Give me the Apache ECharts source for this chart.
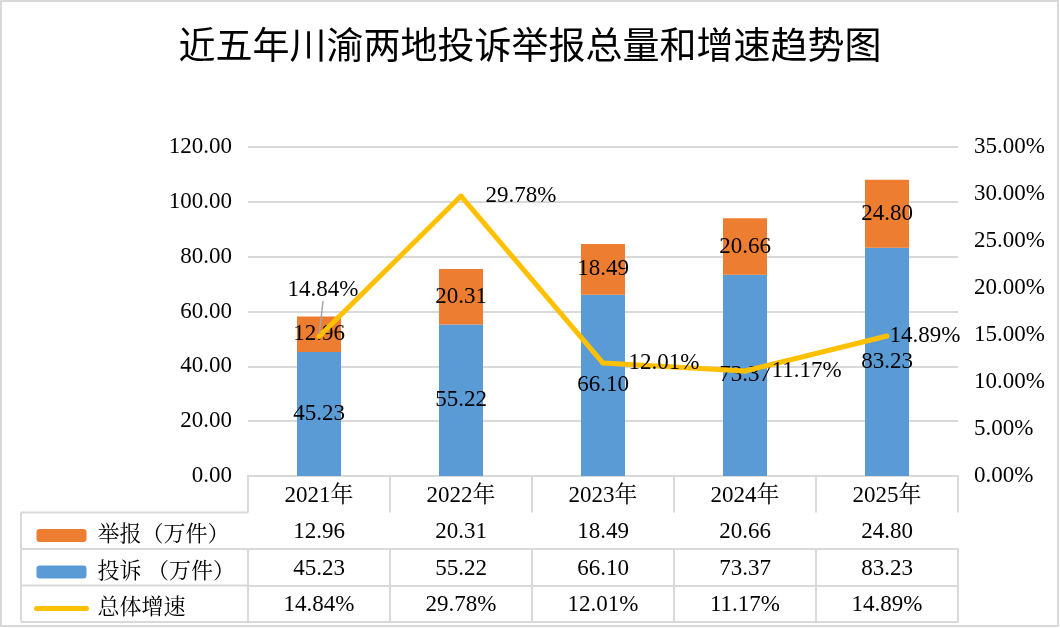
<!DOCTYPE html>
<html>
<head>
<meta charset="utf-8">
<title>近五年川渝两地投诉举报总量和增速趋势图</title>
<script src="https://cdn.jsdelivr.net/npm/echarts@6/dist/echarts.min.js"></script>
<style>
  html, body { margin: 0; padding: 0; background: #fff; }
  #chart { width: 1060px; height: 628px; }
</style>
</head>
<body>
<div id="chart"></div>
<script>
// 数据
var years = ['2021年', '2022年', '2023年', '2024年', '2025年'];
var complaints = [45.23, 55.22, 66.10, 73.37, 83.23];   // 投诉（万件）
var reports = [12.96, 20.31, 18.49, 20.66, 24.80];      // 举报（万件）
var growth = [14.84, 29.78, 12.01, 11.17, 14.89];       // 总体增速 %
var leftTicks = { min: 0, max: 120, interval: 20 };
var rightTicks = { min: 0, max: 35, interval: 5 };

var serif = '"Liberation Serif", "Times New Roman", "Noto Serif CJK SC", "Noto Sans CJK SC", serif';
var gray = '#d9d9d9';
var rowH = 36.5;
var gridLeft = 248, gridRight = 102, gridTop = 147, gridBottom = 152;

var chart = echarts.init(document.getElementById('chart'));

// 表格的行：每行一个放在底部的类目轴
function tableAxis(labels, offset, showLabel) {
  return {
    type: 'category',
    data: labels,
    position: 'bottom',
    offset: offset,
    axisLine: { show: true, lineStyle: { color: gray, width: 2 } },
    axisTick: { show: showLabel, length: rowH, interval: 0, lineStyle: { color: gray, width: 2 } },
    axisLabel: { show: showLabel, interval: 0, margin: 8, color: '#000', fontSize: 23, fontFamily: serif }
  };
}

// 折线标签位置
var lineLabelPos = [
  { position: 'top', distance: 5 },
  { position: 'right', distance: 22 },
  { position: 'right', distance: 23 },
  { position: 'right', distance: 24 },
  { position: 'right', distance: 0, offset: [-2, -13] }
];

var bottomY = 628 - gridBottom;
var legendLines = [];
for (var i = 1; i <= 4; i++) {
  var y = bottomY + rowH * i;
  legendLines.push({ type: 'line', shape: { x1: 21, y1: y, x2: gridLeft, y2: y }, style: { stroke: gray, lineWidth: 2 } });
}
legendLines.push({ type: 'line', shape: { x1: 21, y1: bottomY + rowH, x2: 21, y2: bottomY + rowH * 4 }, style: { stroke: gray, lineWidth: 2 } });

var option = {
  backgroundColor: '#fff',
  animation: false,
  title: {
    text: '近五年川渝两地投诉举报总量和增速趋势图',
    left: 'center',
    top: 21,
    textStyle: { fontFamily: '"Noto Sans CJK SC", sans-serif', fontSize: 37, fontWeight: 'normal', color: '#000' }
  },
  legend: {
    orient: 'vertical',
    left: 29,
    top: bottomY + rowH + 7,
    itemWidth: 50,
    itemHeight: 13,
    itemGap: 14.5,
    data: [
      '举报（万件）',
      '投诉 （万件）',
      { name: '总体增速', itemStyle: { opacity: 0 }, lineStyle: { width: 5, cap: 'round' } }
    ],
    textStyle: { fontSize: 22, fontFamily: serif, color: '#000', padding: [0, 0, 0, 6] }
  },
  graphic: [
    { type: 'rect', shape: { x: 1, y: 1, width: 1057, height: 625 }, style: { fill: 'none', stroke: gray, lineWidth: 2 } }
  ].concat(legendLines),
  grid: { left: gridLeft, right: gridRight, top: gridTop, bottom: gridBottom },
  xAxis: [
    tableAxis(years, 0, true),
    tableAxis(reports.map(function (v) { return v.toFixed(2); }), rowH, true),
    tableAxis(complaints.map(function (v) { return v.toFixed(2); }), rowH * 2, true),
    tableAxis(growth.map(function (v) { return v.toFixed(2) + '%'; }), rowH * 3, true),
    tableAxis(years, rowH * 4, false)
  ],
  yAxis: [
    {
      type: 'value',
      min: leftTicks.min, max: leftTicks.max, interval: leftTicks.interval,
      axisLine: { show: false }, axisTick: { show: false },
      splitLine: { lineStyle: { color: gray, width: 2 } },
      axisLabel: { margin: 16, color: '#000', fontSize: 23, fontFamily: serif, formatter: function (v) { return v.toFixed(2); } }
    },
    {
      type: 'value',
      min: rightTicks.min, max: rightTicks.max, interval: rightTicks.interval,
      axisLine: { show: false }, axisTick: { show: false }, splitLine: { show: false },
      axisLabel: { margin: 16, color: '#000', fontSize: 23, fontFamily: serif, formatter: function (v) { return v.toFixed(2) + '%'; } }
    }
  ],
  series: [
    {
      name: '投诉 （万件）',
      type: 'bar',
      stack: 'total',
      barWidth: 44,
      itemStyle: { color: '#5B9BD5' },
      label: { show: true, position: 'inside', color: '#000', fontSize: 23, fontFamily: serif, formatter: function (p) { return p.value.toFixed(2); } },
      data: complaints
    },
    {
      name: '举报（万件）',
      type: 'bar',
      stack: 'total',
      barWidth: 44,
      itemStyle: { color: '#ED7D31' },
      label: { show: true, position: 'inside', color: '#000', fontSize: 23, fontFamily: serif, formatter: function (p) { return p.value.toFixed(2); } },
      data: reports
    },
    {
      name: '总体增速',
      type: 'line',
      yAxisIndex: 1,
      symbol: 'circle',
      symbolSize: 5,
      itemStyle: { color: '#FFC000' },
      lineStyle: { color: '#FFC000', width: 5 },
      label: { show: true, color: '#000', fontSize: 23, fontFamily: serif, formatter: function (p) { return p.value.toFixed(2) + '%'; } },
      labelLayout: function (p) {
        if (p.dataIndex === 0) return { dx: 4, dy: -28 };
        return {};
      },
      labelLine: { show: false },
      data: growth.map(function (v, i) {
        var item = { value: v, label: lineLabelPos[i] };
        if (i === 0) item.labelLine = { show: true, lineStyle: { color: '#a6a6a6', width: 1.5 } };
        return item;
      })
    }
  ]
};

chart.setOption(option);
</script>
</body>
</html>
